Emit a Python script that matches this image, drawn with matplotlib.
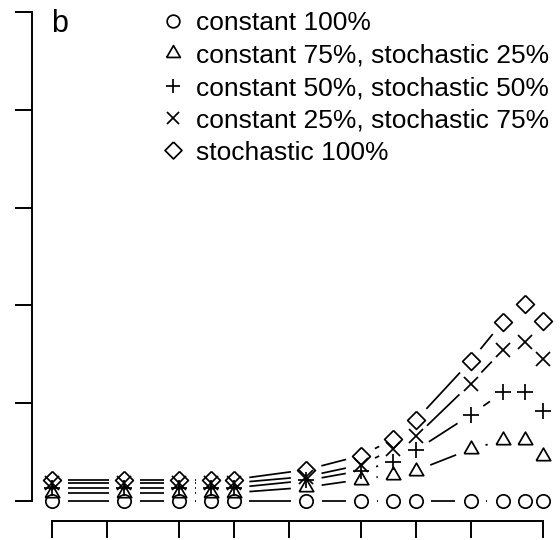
import numpy as np
import matplotlib
matplotlib.use('Agg')
import matplotlib.pyplot as plt
from matplotlib.lines import Line2D
from matplotlib.ticker import NullLocator

plt.rcParams['font.family'] = ['Liberation Sans', 'DejaVu Sans']

# values (x on a log axis)
x_vals = [1, 2.5, 5, 7.5, 10, 25, 50, 75, 100, 200, 300, 400, 500]
const_100 = [0, 0, 0, 0, 0, 0, 0, 0, 0, 0, 0, 0, 0]
const_75 = [0.085, 0.085, 0.085, 0.085, 0.085, 0.14, 0.22, 0.27, 0.31, 0.53, 0.62, 0.62, 0.46]
const_50 = [0.135, 0.135, 0.135, 0.135, 0.135, 0.21, 0.31, 0.40, 0.52, 0.88, 1.11, 1.11, 0.92]
const_25 = [0.185, 0.185, 0.185, 0.185, 0.185, 0.25, 0.37, 0.53, 0.66, 1.20, 1.54, 1.63, 1.45]
stoch_100 = [0.22, 0.22, 0.22, 0.22, 0.22, 0.32, 0.465, 0.63, 0.826, 1.43, 1.83, 2.01, 1.84]

labels = ['constant 100%',
          'constant 75%, stochastic 25%',
          'constant 50%, stochastic 50%',
          'constant 25%, stochastic 75%',
          'stochastic 100%']
x_ticks = [1, 2, 5, 10, 20, 50, 100, 200, 500]
y_ticks = [0, 1, 2, 3, 4, 5]

tri = [(-1, -0.577), (1, -0.577), (0, 1.155), (-1, -0.577)]
diamond = [(0, 1), (1, 0), (0, -1), (-1, 0), (0, 1)]
markers = [('o', 9.6), (tri, 12.0), ('+', 11.0), ('x', 9.4), (diamond, 12.8)]
series = [const_100, const_75, const_50, const_25, stoch_100]
LW = 1.25

W, H = 560, 540
fig = plt.figure(figsize=(W / 100, H / 100), dpi=100)
# plot region (pixels): x 32.4..562.6, y -7.6..520.6 (from top)
ax = fig.add_axes([32.4 / W, (H - 520.6) / H, 530.2 / W, 528.2 / H])
ax.set_xscale('log')
ax.set_xlim(10 ** -0.108, 10 ** 2.807)
ax.set_ylim(-0.2, 5.2)


def gap_line(ax, xs, ys, gap=15.5, **kw):
    # R type="b": segments stop short of each point
    pts = ax.transData.transform(np.column_stack([xs, ys]))
    inv = ax.transData.inverted()
    for p0, p1 in zip(pts[:-1], pts[1:]):
        d = p1 - p0
        dist = np.hypot(d[0], d[1])
        if dist <= 2 * gap:
            continue
        u = d / dist
        a, b = inv.transform([p0 + u * gap, p1 - u * gap])
        ax.plot([a[0], b[0]], [a[1], b[1]], color='black', lw=LW,
                solid_capstyle='butt', clip_on=False, **kw)


for ys, (m, ms) in zip(series, markers):
    gap_line(ax, x_vals, ys)
    ax.plot(x_vals, ys, linestyle='none', marker=m, markersize=ms,
            markerfacecolor='none', markeredgecolor='black',
            markeredgewidth=LW, clip_on=False)

for s in ['top', 'right']:
    ax.spines[s].set_visible(False)
ax.spines['bottom'].set_bounds(1, 500)
ax.spines['left'].set_bounds(0, 5)
for s in ['bottom', 'left']:
    ax.spines[s].set_linewidth(1.4)
ax.set_xticks(x_ticks)
ax.set_yticks(y_ticks)
ax.xaxis.set_minor_locator(NullLocator())
ax.tick_params(direction='out', length=12.4, width=1.4,
               labelbottom=False, labelleft=False)

# panel letter and legend (no box)
fig.text(51 / W, 1 - 31.5 / H, 'b', fontsize=22, ha='left', va='baseline')
row_y = 21.0
for lab, (m, ms) in zip(labels, markers):
    yf = 1 - row_y / H
    fig.add_artist(Line2D([173 / W], [yf], marker=m, markersize=ms * 0.95,
                          markerfacecolor='none', markeredgecolor='black',
                          markeredgewidth=LW, linestyle='none'))
    fig.text(196 / W, yf, lab, fontsize=19, ha='left', va='center_baseline')
    row_y += 32.3

fig.savefig('out.png', dpi=100)
